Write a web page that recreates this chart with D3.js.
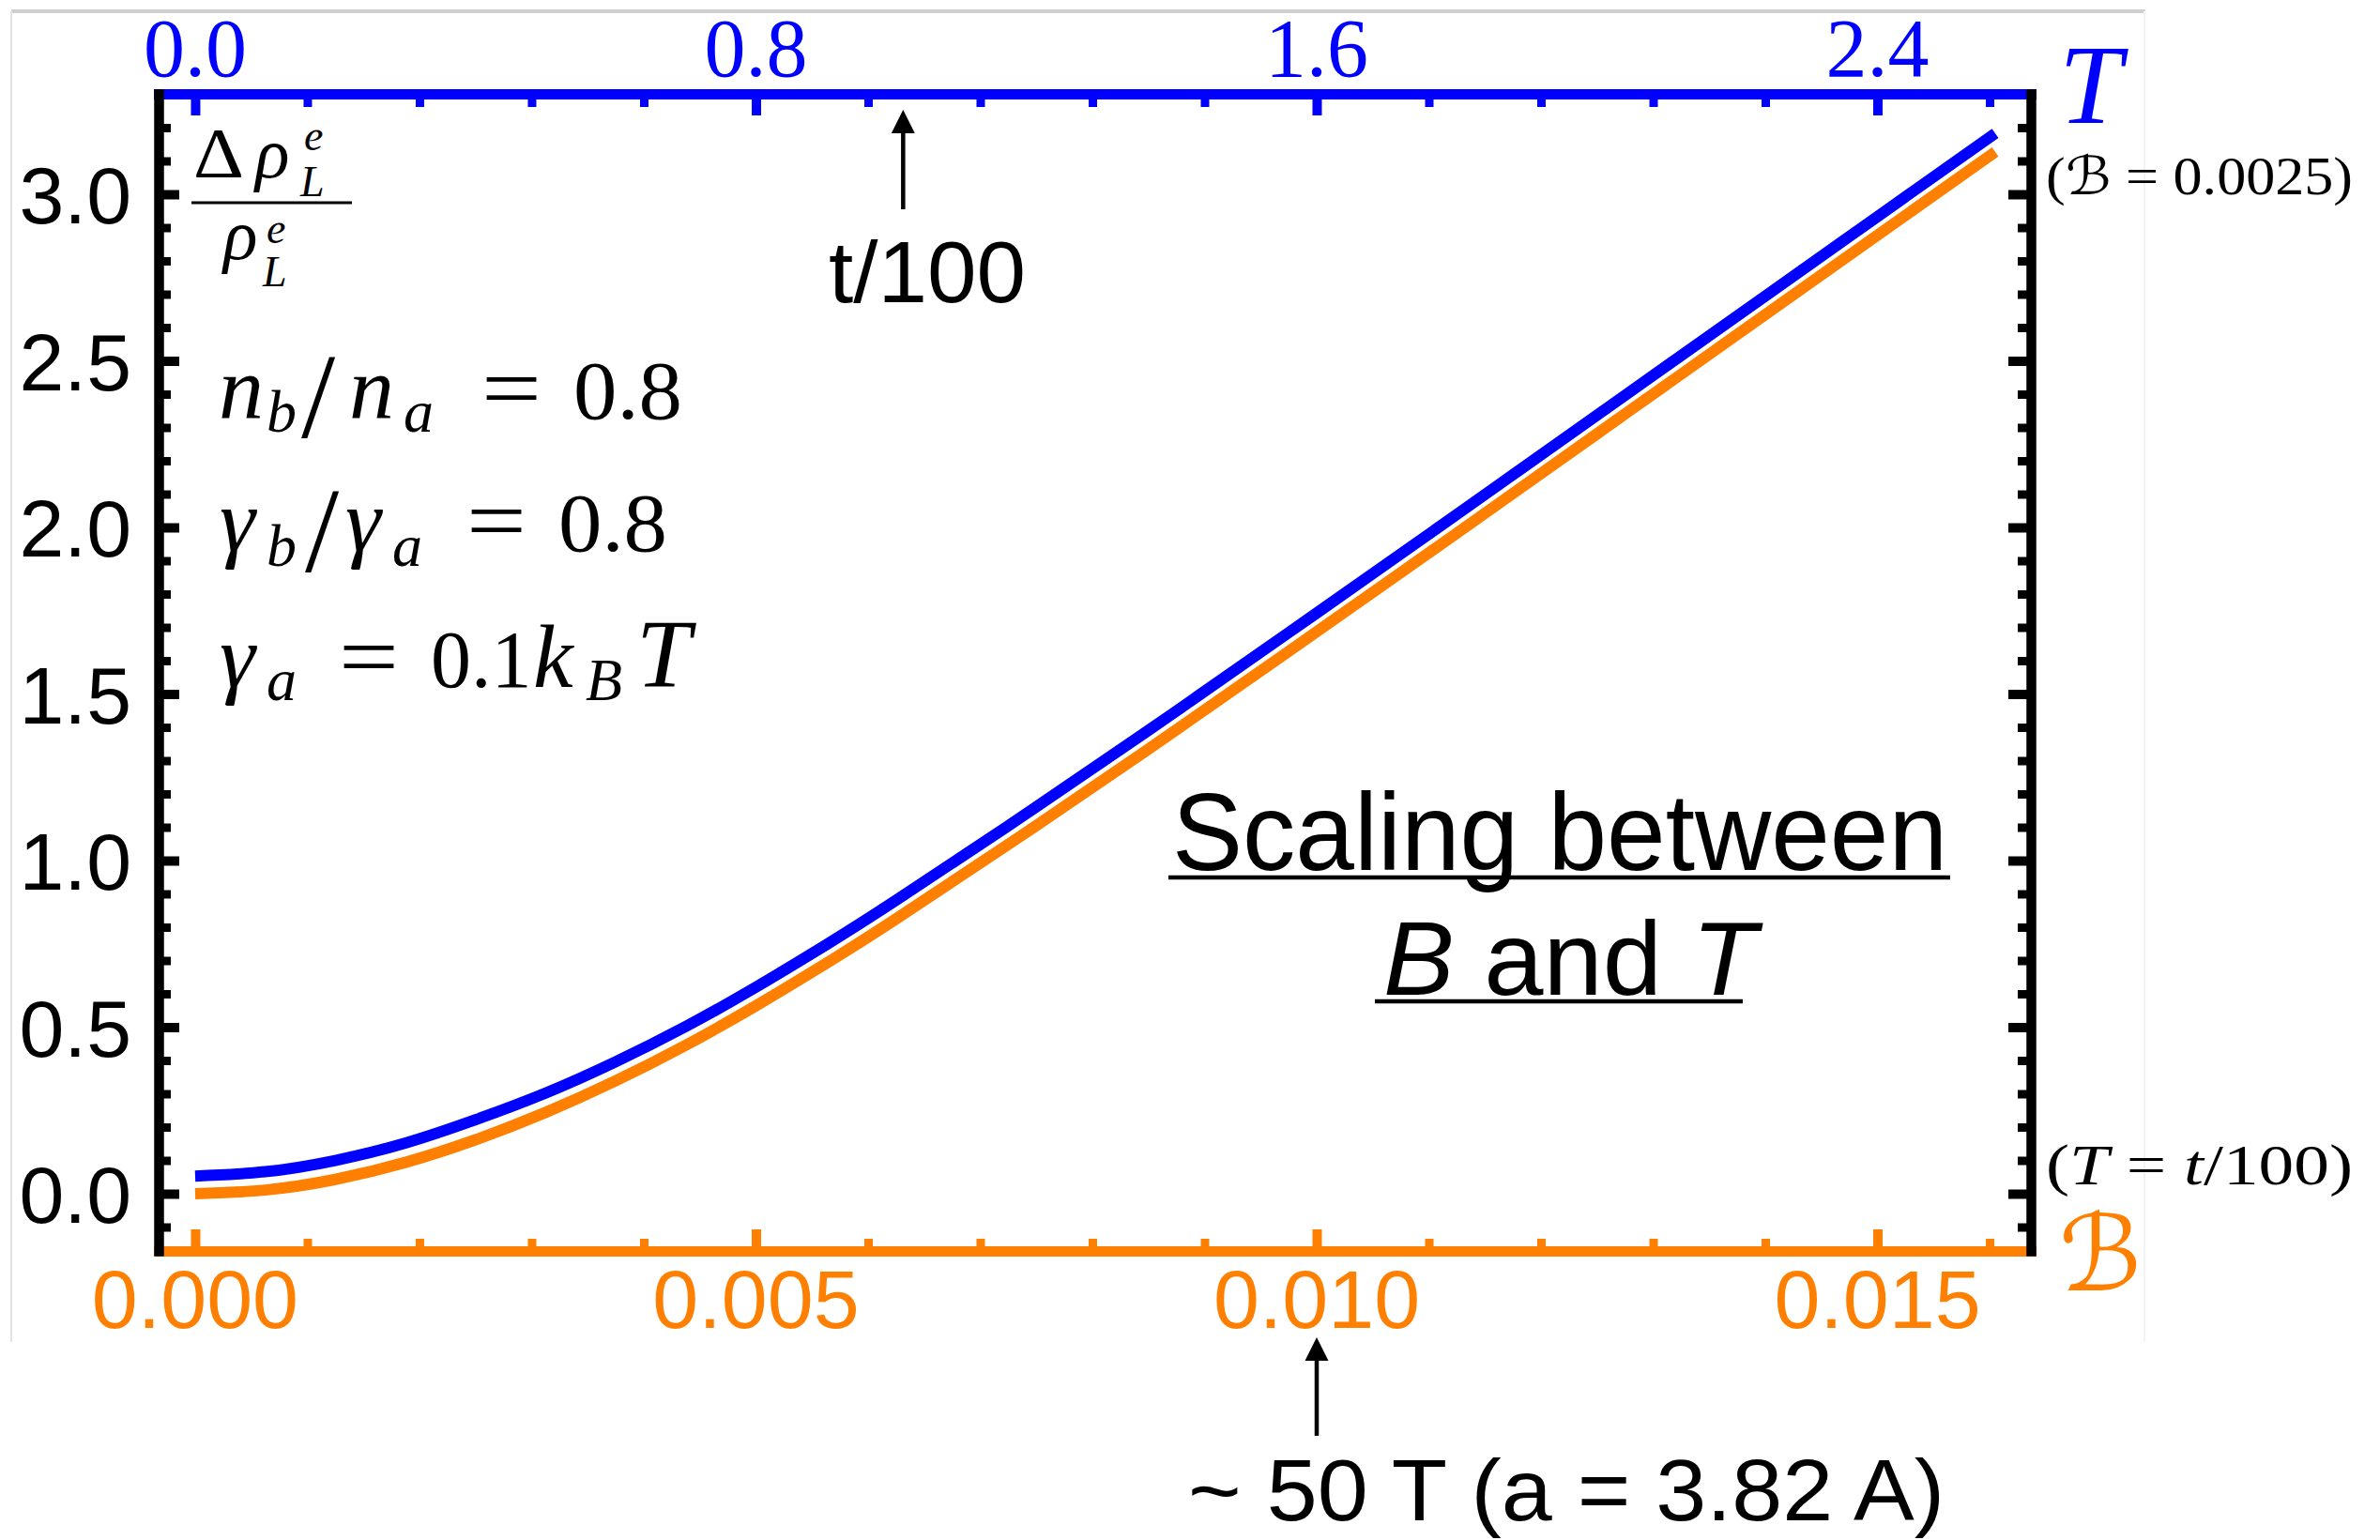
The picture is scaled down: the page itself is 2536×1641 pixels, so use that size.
<!DOCTYPE html>
<html>
<head>
<meta charset="utf-8">
<script src="https://cdn.jsdelivr.net/npm/d3@7"></script>
<style>
  html, body { margin: 0; padding: 0; background: #ffffff; }
  svg { display: block; }
</style>
</head>
<body>
<svg id="chart" width="2536" height="1641"></svg>
<script>
// ---- tick positions and labels ----
const tMajorTicks = [0, 0.8, 1.6, 2.4];
const tTickLabels = ["0.0", "0.8", "1.6", "2.4"];
const tMinorTicks = [0.16, 0.32, 0.48, 0.64, 0.96, 1.12, 1.28, 1.44, 1.76, 1.92, 2.08, 2.24, 2.56];

const bMajorTicks = [0, 0.005, 0.010, 0.015];
const bTickLabels = ["0.000", "0.005", "0.010", "0.015"];
const bMinorTicks = [0.001, 0.002, 0.003, 0.004, 0.006, 0.007, 0.008, 0.009, 0.011, 0.012, 0.013, 0.014, 0.016];

const yMajorTicks = [0, 0.5, 1.0, 1.5, 2.0, 2.5, 3.0];
const yTickLabels = ["0.0", "0.5", "1.0", "1.5", "2.0", "2.5", "3.0"];
const yMinorTicks = [-0.1, 0.1, 0.2, 0.3, 0.4, 0.6, 0.7, 0.8, 0.9, 1.1, 1.2, 1.3, 1.4,
                     1.6, 1.7, 1.8, 1.9, 2.1, 2.2, 2.3, 2.4, 2.6, 2.7, 2.8, 2.9, 3.1, 3.2];

// ---- Δρ/ρ as a function of temperature T (blue, top axis) ----
const tempT    = [0, 0.1, 0.2, 0.3, 0.4, 0.5, 0.6, 0.7, 0.8, 0.9, 1.0, 1.2, 1.4, 1.6, 1.8, 2.0, 2.2, 2.4, 2.568];
const ratioVsT = [0.053, 0.066, 0.100, 0.152, 0.222, 0.302, 0.396, 0.502, 0.620, 0.747, 0.881,
                  1.161, 1.449, 1.743, 2.039, 2.337, 2.635, 2.933, 3.183];

// ---- Δρ/ρ as a function of field ℬ (orange, bottom axis) ----
const fieldB   = [0, 0.000625, 0.00125, 0.001875, 0.0025, 0.003125, 0.00375, 0.004375, 0.005,
                  0.005625, 0.00625, 0.0075, 0.00875, 0.010, 0.01125, 0.0125, 0.01375, 0.015, 0.01605];
const ratioVsB = [0.000, 0.011, 0.043, 0.094, 0.162, 0.244, 0.339, 0.446, 0.564,
                  0.691, 0.825, 1.105, 1.393, 1.687, 1.983, 2.281, 2.579, 2.877, 3.127];

// ---- layout ----
const BLUE = "#0000ff", ORANGE = "#ff8000", BLACK = "#000000";
const SERIF = "'Liberation Serif', 'Times New Roman', serif";
const SANS = "'Liberation Sans', Arial, Helvetica, sans-serif";
const SCRIPT = "'DejaVu Serif', 'DejaVu Sans', serif";
const frame = { left: 169, right: 2164, top: 100, bottom: 1333 };

const svg = d3.select("#chart");

const xB = d3.scaleLinear().domain([-0.000326, 0.016368]).range([frame.left, frame.right]);
const xT = d3.scaleLinear().domain([-0.05216, 2.61888]).range([frame.left, frame.right]);
const y  = d3.scaleLinear().domain([-0.1718, 3.3014]).range([frame.bottom, frame.top]);

// faint border of the panel
const border = svg.append("g");
border.append("line").attr("x1", 12).attr("x2", 2286).attr("y1", 12).attr("y2", 12)
  .attr("stroke", "#cfcfcf").attr("stroke-width", 4);
border.append("line").attr("x1", 12).attr("x2", 12).attr("y1", 12).attr("y2", 1430)
  .attr("stroke", "#e2e2e2").attr("stroke-width", 2);
border.append("line").attr("x1", 2285).attr("x2", 2285).attr("y1", 12).attr("y2", 1430)
  .attr("stroke", "#f3f3f3").attr("stroke-width", 2);

// ---- curves ----
const lineT = d3.line().x((d, i) => xT(tempT[i])).y(d => y(d)).curve(d3.curveNatural);
const lineB = d3.line().x((d, i) => xB(fieldB[i])).y(d => y(d)).curve(d3.curveNatural);

svg.append("path").datum(ratioVsB).attr("d", lineB)
  .attr("fill", "none").attr("stroke", ORANGE).attr("stroke-width", 12).attr("stroke-linecap", "butt");
svg.append("path").datum(ratioVsT).attr("d", lineT)
  .attr("fill", "none").attr("stroke", BLUE).attr("stroke-width", 12).attr("stroke-linecap", "butt");

// ---- axes: heavy frame lines with inward ticks ----
function styleAxis(g, color, lineWidth, tickWidth) {
  g.attr("color", color).attr("fill", "none");
  g.selectAll("text").remove();
  g.select(".domain").attr("stroke-width", lineWidth).attr("stroke-linecap", "square");
  g.selectAll(".tick line").attr("stroke-width", tickWidth).attr("stroke-linecap", "butt");
}

function drawAxis(axisFn, scale, major, minor, majorLen, minorLen, transform, color, lineWidth) {
  const gMinor = svg.append("g").attr("transform", transform)
    .call(axisFn(scale).tickValues(minor).tickSizeInner(-minorLen).tickSizeOuter(0).tickFormat(() => ""));
  styleAxis(gMinor, color, lineWidth, 9);
  const gMajor = svg.append("g").attr("transform", transform)
    .call(axisFn(scale).tickValues(major).tickSizeInner(-majorLen).tickSizeOuter(0).tickFormat(() => ""));
  styleAxis(gMajor, color, lineWidth, 10);
}

drawAxis(d3.axisTop, xT, tMajorTicks, tMinorTicks, 23, 14, `translate(0,${frame.top})`, BLUE, 11);
drawAxis(d3.axisBottom, xB, bMajorTicks, bMinorTicks, 23, 13, `translate(0,${frame.bottom})`, ORANGE, 11);
drawAxis(d3.axisLeft, y, yMajorTicks, yMinorTicks, 22, 13, `translate(${frame.left},0)`, BLACK, 10);
drawAxis(d3.axisRight, y, yMajorTicks, yMinorTicks, 24, 14, `translate(${frame.right},0)`, BLACK, 10);

// ---- tick labels ----
svg.append("g").selectAll("text").data(tMajorTicks).join("text")
  .attr("x", d => xT(d)).attr("y", 81)
  .attr("text-anchor", "middle").attr("font-family", SERIF).attr("font-size", 88)
  .attr("fill", BLUE).text((d, i) => tTickLabels[i]);

svg.append("g").selectAll("text").data(bMajorTicks).join("text")
  .attr("x", d => xB(d)).attr("y", 1415)
  .attr("text-anchor", "middle").attr("font-family", SANS).attr("font-size", 88)
  .attr("fill", ORANGE).text((d, i) => bTickLabels[i]);

svg.append("g").selectAll("text").data(yMajorTicks).join("text")
  .attr("x", 140).attr("y", d => y(d) + 31)
  .attr("text-anchor", "end").attr("font-family", SANS).attr("font-size", 86)
  .attr("fill", BLACK).text((d, i) => yTickLabels[i]);

// ---- text helpers ----
function put(str, x, yy, size, opts = {}) {
  const t = svg.append("text").attr("x", x).attr("y", yy)
    .attr("font-family", opts.family || SERIF).attr("font-size", size)
    .attr("fill", opts.color || BLACK)
    .attr("font-style", opts.italic ? "italic" : "normal")
    .attr("text-anchor", opts.anchor || "start")
    .text(str);
  if (opts.len) t.attr("textLength", opts.len).attr("lengthAdjust", "spacingAndGlyphs");
  return t;
}

// axis variable names
put("T", 2194, 131, 120, { italic: true, color: BLUE });
put("\u212C", 2194, 1375, 112, { color: ORANGE, family: SCRIPT, italic: true });

// (ℬ = 0.0025)
const lab1 = svg.append("text").attr("x", 2180).attr("y", 207)
  .attr("font-family", SERIF).attr("font-size", 56).attr("fill", BLACK)
  .attr("textLength", 327).attr("lengthAdjust", "spacingAndGlyphs");
lab1.append("tspan").text("(");
lab1.append("tspan").attr("font-family", SCRIPT).attr("font-style", "italic").text("\u212C");
lab1.append("tspan").text(" = 0.0025)");

// (T = t/100)
const lab2 = svg.append("text").attr("x", 2180).attr("y", 1262)
  .attr("font-family", SERIF).attr("font-size", 62).attr("fill", BLACK)
  .attr("textLength", 327).attr("lengthAdjust", "spacingAndGlyphs");
lab2.append("tspan").text("(");
lab2.append("tspan").attr("font-style", "italic").text("T");
lab2.append("tspan").text(" = ");
lab2.append("tspan").attr("font-style", "italic").text("t");
lab2.append("tspan").text("/100)");

// y-axis quantity: Δρ_L^e / ρ_L^e
put("\u0394", 206, 189, 76, { len: 54 });
put("\u03C1", 272, 189, 76, { italic: true });
put("e", 324, 160, 46, { italic: true });
put("L", 320, 209, 46, { italic: true });
svg.append("line").attr("x1", 204).attr("x2", 375).attr("y1", 216).attr("y2", 216)
  .attr("stroke", BLACK).attr("stroke-width", 3);
put("\u03C1", 238, 276, 76, { italic: true });
put("e", 284, 259, 46, { italic: true });
put("L", 280, 305, 46, { italic: true });

// parameters
const M = 96, S = 64, SL = 130, D = 88;
// n_b / n_a = 0.8
put("n", 233, 446, M, { italic: true });
put("b", 284, 460, S, { italic: true });
put("/", 321, 466, SL);
put("n", 372, 446, M, { italic: true });
put("a", 430, 460, S, { italic: true });
put("=", 513, 446, M, { len: 64 });
put("0.8", 611, 446, D, { len: 116 });
// γ_b / γ_a = 0.8
put("\u03B3", 234, 587, M, { italic: true });
put("b", 284, 603, S, { italic: true });
put("/", 325, 609, SL);
put("\u03B3", 368, 587, M, { italic: true });
put("a", 418, 603, S, { italic: true });
put("=", 497, 587, M, { len: 64 });
put("0.8", 595, 587, D, { len: 116 });
// γ_a = 0.1 k_B T
put("\u03B3", 234, 732, M, { italic: true });
put("a", 284, 746, S, { italic: true });
put("=", 361, 732, M, { len: 64 });
put("0.1", 459, 732, 86);
put("k", 568, 732, M, { italic: true });
put("B", 624, 746, S, { italic: true });
put("T", 678, 732, M + 8, { italic: true });

// caption in the plot
put("Scaling between", 1249, 927, 116, { family: SANS, len: 826 });
svg.append("line").attr("x1", 1245).attr("x2", 2078).attr("y1", 935).attr("y2", 935)
  .attr("stroke", BLACK).attr("stroke-width", 4.5);
const cap2 = svg.append("text").attr("x", 1474).attr("y", 1060)
  .attr("font-family", SANS).attr("font-size", 112).attr("fill", BLACK)
  .attr("textLength", 398).attr("lengthAdjust", "spacingAndGlyphs");
cap2.append("tspan").attr("font-style", "italic").text("B");
cap2.append("tspan").text(" and ");
cap2.append("tspan").attr("font-style", "italic").text("T");
svg.append("line").attr("x1", 1465).attr("x2", 1857).attr("y1", 1067).attr("y2", 1067)
  .attr("stroke", BLACK).attr("stroke-width", 4.5);

// ---- arrows with notes ----
function upArrow(x, tipY, baseY, endY) {
  svg.append("line").attr("x1", x).attr("x2", x).attr("y1", endY).attr("y2", baseY - 2)
    .attr("stroke", BLACK).attr("stroke-width", 4.5);
  svg.append("path")
    .attr("d", `M${x},${tipY}L${x - 12.5},${baseY}L${x + 12.5},${baseY}Z`)
    .attr("fill", BLACK);
}
upArrow(xT(1.01), 117, 142, 223);
put("t/100", 883, 322, 93, { family: SANS, len: 210 });

upArrow(xB(0.010), 1425, 1450, 1530);
put("~ 50 T (a = 3.82 A)", 1266, 1620, 93, { family: SANS, len: 806 });
</script>
</body>
</html>
